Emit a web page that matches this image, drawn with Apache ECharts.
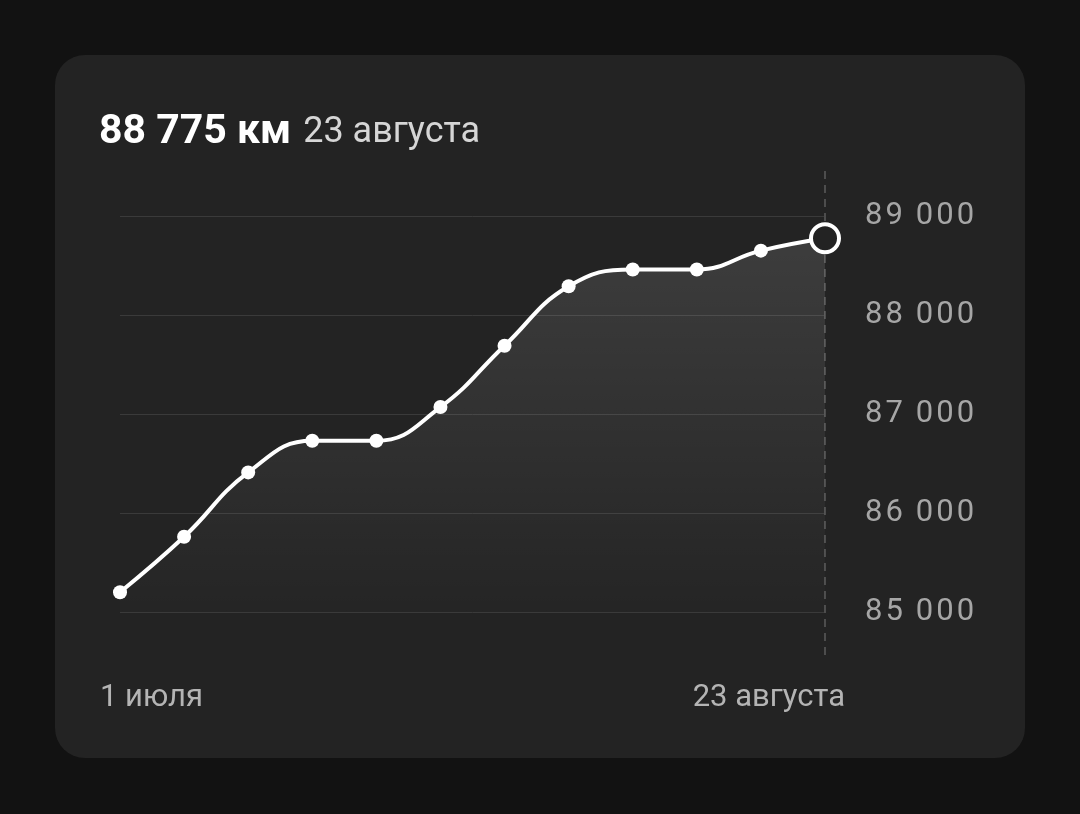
<!DOCTYPE html>
<html><head><meta charset="utf-8">
<script src="https://cdn.jsdelivr.net/npm/echarts@6/dist/echarts.min.js"></script>
<style>html,body{margin:0;padding:0;background:#121212}#c{width:1080px;height:814px}</style>
</head><body><div id="c"></div>
<script>
const categories = ['1 июля','','','','','','','','','','','23 августа'];
const mileage = [85200, 85760, 86410, 86730, 86730, 87070, 87690, 88290, 88460, 88460, 88650, 88775];
const yTicks = [85000, 86000, 87000, 88000, 89000];
const headline = '88 775 км';
const headlineDate = '23 августа';

const chart = echarts.init(document.getElementById('c'), null, {renderer:'canvas'});
const last = mileage.length - 1;
const fmt = v => {
  const s = String(v);
  const head = s.slice(0, s.length - 3).split('').join('\u200A');
  const tail = s.slice(-3).split('').join('\u200A');
  return head + '\u200A\u2009\u200A' + tail;
};

chart.setOption({
  backgroundColor: '#121212',
  animation: false,
  graphic: [{
    type: 'rect', z: -10, silent: true,
    shape: {x: 55, y: 55, width: 970, height: 703, r: 30},
    style: {fill: '#232323'}
  }],
  title: {
    left: 99, top: 112, padding: 0,
    text: '{a|' + headline + '}{b|' + headlineDate + '}',
    textStyle: {
      rich: {
        a: {fontFamily: 'Roboto', fontWeight: 'bold', fontSize: 41, color: '#ffffff'},
        b: {fontFamily: 'Roboto', fontWeight: 'normal', fontSize: 36, color: '#d6d6d6', padding: [0, 0, 0, 12]}
      }
    }
  },
  grid: [
    {left: 120, right: 255, top: 216, bottom: 202},
    {left: 120, right: 255, top: 166, bottom: 159}
  ],
  xAxis: [{
    type: 'category', gridIndex: 0, data: categories, boundaryGap: false,
    axisLine: {show: false}, axisTick: {show: false},
    axisLabel: {
      interval: 0, margin: 71, color: '#b4b4b4', fontFamily: 'Roboto', fontSize: 31,
      alignMinLabel: 'left', alignMaxLabel: 'right', padding: [0, -20, 0, -20]
    },
    splitLine: {show: false}
  }, {
    type: 'category', gridIndex: 1, data: categories, boundaryGap: false, show: false
  }],
  yAxis: [{
    type: 'value', gridIndex: 0, position: 'right', min: 85000, max: 89000, interval: 1000,
    axisLine: {show: false}, axisTick: {show: false},
    axisLabel: {margin: 40, color: '#a6a6a6', fontFamily: 'Roboto', fontSize: 31, formatter: fmt, padding: [4, 0, 0, 0]},
    splitLine: {lineStyle: {color: '#3a3a3a', width: 1}}
  }, {
    type: 'value', gridIndex: 1, min: 0, max: 1, show: false
  }],
  series: [{
    type: 'line', xAxisIndex: 1, yAxisIndex: 1, data: [], silent: true,
    markLine: {
      symbol: 'none', silent: true, label: {show: false},
      lineStyle: {color: '#4d4d4d', type: [8, 6], width: 2},
      data: [{xAxis: categories[last]}]
    }
  }, {
    type: 'line', xAxisIndex: 0, yAxisIndex: 0, z: 5,
    data: mileage.map((v, i) => i === last ? {
      value: v, symbolSize: 28,
      itemStyle: {color: '#232323', borderColor: '#ffffff', borderWidth: 4}
    } : v),
    smooth: 0.45,
    symbol: 'circle', symbolSize: 14, showAllSymbol: true,
    itemStyle: {color: '#ffffff'},
    lineStyle: {color: '#ffffff', width: 4},
    areaStyle: {
      origin: 'start',
      color: new echarts.graphic.LinearGradient(0, 0, 0, 1, [
        {offset: 0, color: 'rgba(255,255,255,0.17)'},
        {offset: 1, color: 'rgba(255,255,255,0.01)'}
      ])
    }
  }]
});
</script></body></html>
